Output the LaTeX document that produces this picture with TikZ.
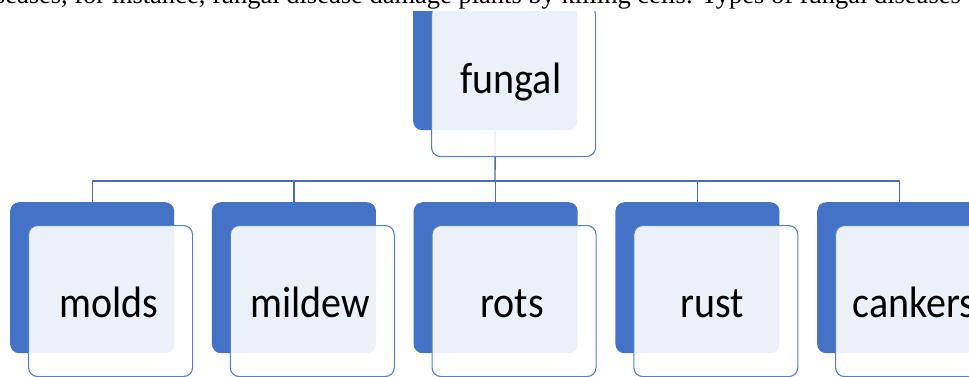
\documentclass[tikz,border=0pt]{standalone}
\usepackage{fontspec}
\setmainfont{Liberation Serif}
\newfontfamily\calib{Carlito}
\definecolor{blueA}{HTML}{4472C4}
\definecolor{blueB}{HTML}{5580CC}
\definecolor{lineC}{HTML}{4A6DB0}
\tikzset{
  backbox/.style={rectangle, rounded corners=9pt, fill=blueA, draw=none,
    minimum width=164pt, minimum height=151pt, inner sep=0pt, anchor=north west},
  frontbox/.style={rectangle, rounded corners=9pt, fill=white, fill opacity=0.9,
    text opacity=1, draw=blueB, draw opacity=1, line width=1.1pt,
    minimum width=164pt, minimum height=151pt, inner sep=0pt, anchor=north west},
  lbl/.style={anchor=base, inner sep=0pt, font=\calib\fontsize{40}{44}\selectfont},
  conn/.style={draw=lineC, line width=1.4pt}
}
\newcommand{\tallt}[1]{\scalebox{1}[1.1]{#1}}
\begin{document}
\begin{tikzpicture}[x=1pt,y=-1pt]
\useasboundingbox (0,0) rectangle (969,376);
% root
\node[backbox] (b0) at (413,-21) {};
\coordinate (bus) at (495,181);
% children back boxes
\node[backbox] (b1) at (10,202) {};
\node[backbox] (b2) at (211.75,202) {};
\node[backbox] (b3) at (413.5,202) {};
\node[backbox] (b4) at (615.25,202) {};
\node[backbox] (b5) at (817,202) {};
% connectors
\draw[conn] (b0.south) -- (bus);
\draw[conn] (b1.north) -- (b1.north |- bus) -- (b5.north |- bus) -- (b5.north);
\draw[conn] (b2.north |- bus) -- (b2.north);
\draw[conn] (b3.north |- bus) -- (b3.north);
\draw[conn] (b4.north |- bus) -- (b4.north);
% front boxes
\node[frontbox] (f0) at (431,5) {};
\node[frontbox] (f1) at (28,225) {};
\node[frontbox] (f2) at (229.75,225) {};
\node[frontbox] (f3) at (431.5,225) {};
\node[frontbox] (f4) at (633.25,225) {};
\node[frontbox] (f5) at (835,225) {};
% labels
\node[lbl] (t0) at (511,93) {\tallt{fungal}};
\node[lbl] (t1) at (109,317) {\tallt{molds}};
\node[lbl] (t2) at (310,317) {\tallt{mildew}};
\node[lbl] (t3) at (512,317) {\tallt{rots}};
\node[lbl] (t4) at (712.5,317) {\tallt{rust}};
\node[lbl] (t5) at (914,317) {\tallt{cankers}};
% cropped text line at top
\fill[white] (0,-40) rectangle (969,11);
\node[anchor=base east, inner sep=0pt, font=\fontsize{26.5}{30}\selectfont] (txt) at (961,3)
  {diseases, for instance, fungal disease damage plants by killing cells. Types of fungal diseases};
\end{tikzpicture}
\end{document}
